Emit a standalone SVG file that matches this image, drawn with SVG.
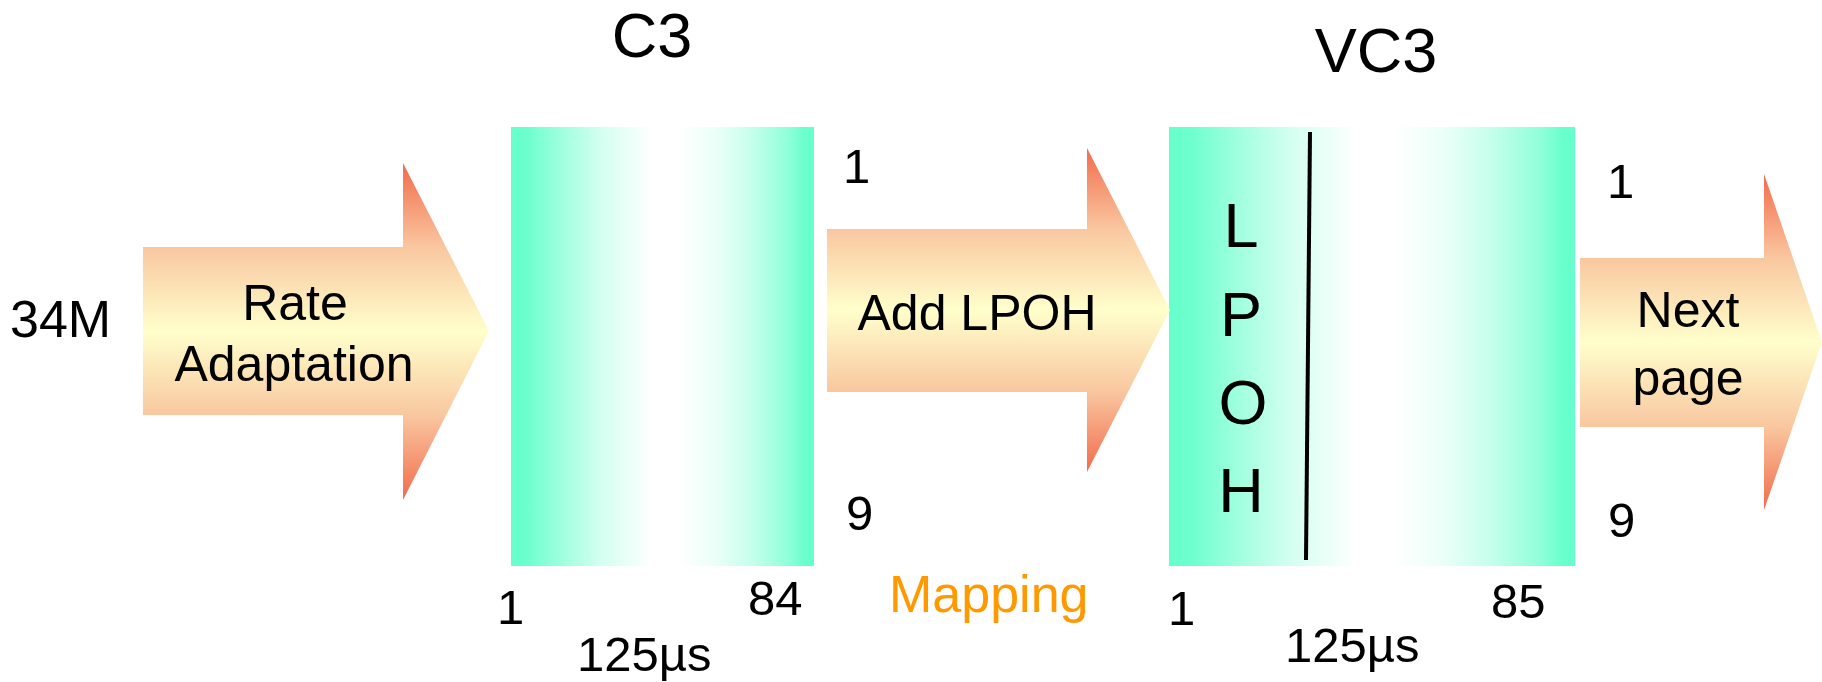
<svg xmlns="http://www.w3.org/2000/svg" width="1822" height="682" viewBox="0 0 1822 682">
  <style>
    text { font-family: "Liberation Sans", Arial, sans-serif; fill: #000; }
    .title { font-size: 63px; text-anchor: middle; }
    .lbl { font-size: 50px; }
    .num { font-size: 49px; }
    .arrow-text { font-size: 50px; text-anchor: middle; }
    .lpoh { font-size: 63px; text-anchor: middle; }
    .mapping { font-size: 52px; fill: #FF9900; }
  </style>
  <defs>
    <!-- peach block-arrow fill: coral at the head tips, pale yellow along the axis -->
    <linearGradient id="arrowFill" x1="0" y1="0" x2="0" y2="1">
      <stop offset="0" stop-color="#F26B4B"/>
      <stop offset="0.25" stop-color="#F9C7A0"/>
      <stop offset="0.5" stop-color="#FFFFCC"/>
      <stop offset="0.75" stop-color="#F9C7A0"/>
      <stop offset="1" stop-color="#F26B4B"/>
    </linearGradient>
    <!-- container fill: teal edges easing into a broad white middle -->
    <linearGradient id="frameFill" x1="0" y1="0" x2="1" y2="0">
      <stop offset="0" stop-color="#66FFCC"/>
      <stop offset="0.05" stop-color="#6CFFCE"/>
      <stop offset="0.19" stop-color="#A8FFE2"/>
      <stop offset="0.30" stop-color="#D4FFF1"/>
      <stop offset="0.40" stop-color="#EDFFF9"/>
      <stop offset="0.46" stop-color="#FFFFFF"/>
      <stop offset="0.55" stop-color="#FFFFFF"/>
      <stop offset="0.68" stop-color="#EAFFF8"/>
      <stop offset="0.81" stop-color="#BFFFEA"/>
      <stop offset="0.92" stop-color="#8CFFD9"/>
      <stop offset="0.97" stop-color="#69FFCD"/>
      <stop offset="1" stop-color="#66FFCC"/>
    </linearGradient>
  </defs>

  <rect width="1822" height="682" fill="#FFFFFF"/>

  <!-- input signal -->
  <g id="input-34M">
    <text class="lbl" x="10" y="337" style="font-size:52px">34M</text>
  </g>

  <!-- C3 container -->
  <g id="c3">
    <text class="title" x="652" y="57">C3</text>
    <rect x="511" y="127" width="303" height="439" fill="url(#frameFill)"/>
    <text class="num" x="497" y="624">1</text>
    <text class="num" x="748" y="615">84</text>
    <text class="num" x="577" y="671">125µs</text>
    <text class="num" x="843" y="183">1</text>
    <text class="num" x="846" y="530">9</text>
  </g>

  <!-- VC3 container -->
  <g id="vc3">
    <text class="title" x="1376" y="72">VC3</text>
    <rect x="1169" y="127" width="406" height="439" fill="url(#frameFill)"/>
    <line x1="1310" y1="132" x2="1306" y2="560" stroke="#000" stroke-width="4"/>
    <text class="lpoh" x="1241" y="247">L</text>
    <text class="lpoh" x="1241" y="336">P</text>
    <text class="lpoh" x="1243" y="424">O</text>
    <text class="lpoh" x="1241" y="512">H</text>
    <text class="num" x="1168" y="625">1</text>
    <text class="num" x="1491" y="618">85</text>
    <text class="num" x="1285" y="662">125µs</text>
    <text class="num" x="1607" y="198">1</text>
    <text class="num" x="1608" y="537">9</text>
  </g>

  <!-- process arrows -->
  <g id="connectors">
    <g id="rate-adaptation">
      <polygon points="143,247 403,247 403,163 489,331 403,500 403,415 143,415" fill="url(#arrowFill)"/>
      <text class="arrow-text" x="295" y="320">Rate</text>
      <text class="arrow-text" x="294" y="381">Adaptation</text>
    </g>
    <g id="add-lpoh">
      <polygon points="827,229 1087,229 1087,148 1170,310 1087,472 1087,392 827,392" fill="url(#arrowFill)"/>
      <text class="arrow-text" x="977" y="330">Add LPOH</text>
    </g>
    <g id="next-page">
      <polygon points="1580,258 1764,258 1764,174 1822,342 1764,510 1764,427 1580,427" fill="url(#arrowFill)"/>
      <text class="arrow-text" x="1688" y="327">Next</text>
      <text class="arrow-text" x="1688" y="395">page</text>
    </g>
  </g>

  <!-- step caption -->
  <g id="mapping">
    <text class="mapping" x="889" y="612">Mapping</text>
  </g>
</svg>
